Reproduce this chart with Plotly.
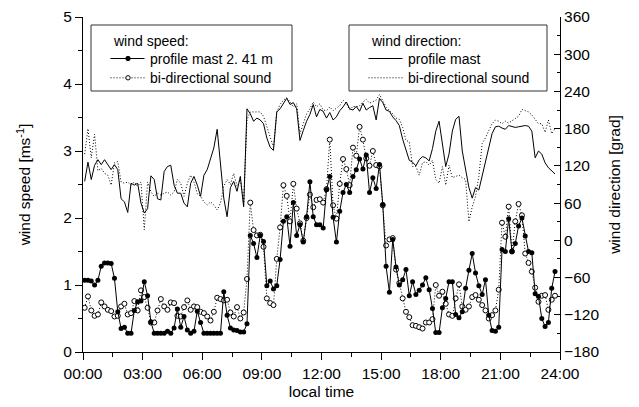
import plotly.graph_objects as go

# ---- data (10-min values, local time in hours) ----
speed_mast = [1.07, 1.07, 1.06, 1.00, 1.07, 1.28, 1.33, 1.33, 1.32, 1.10,
              0.60, 0.35, 0.37, 0.28, 0.28, 0.62, 0.75, 0.76, 1.05, 0.84,
              0.45, 0.28, 0.28, 0.28, 0.28, 0.31, 0.28, 0.36, 0.64, 0.37,
              0.53, 0.33, 0.28, 0.31, 0.61, 0.44, 0.28, 0.28, 0.28, 0.28,
              0.28, 0.28, 0.90, 0.55, 0.36, 0.33, 0.32, 0.30, 0.30, 0.42,
              1.74, 1.62, 1.41, 1.74, 1.65, 0.99, 1.06, 0.94, 0.99, 1.38,
              1.95, 2.02, 1.58, 2.23, 1.74, 1.90, 1.64, 2.02, 2.54, 2.02,
              1.90, 1.90, 1.85, 2.42, 2.62, 2.01, 1.64, 2.10, 2.38, 2.50,
              2.38, 2.62, 2.72, 2.88, 2.73, 2.94, 2.38, 2.60, 2.44, 2.80,
              2.20, 1.28, 0.89, 1.68, 1.27, 1.00, 1.08, 1.23, 0.84, 1.05,
              0.86, 0.92, 1.00, 1.11, 0.93, 0.65, 0.29, 0.29, 0.66, 0.80,
              1.05, 1.05, 0.56, 0.51, 0.60, 0.95, 1.22, 1.47, 1.18, 0.99,
              0.86, 1.08, 0.55, 0.32, 0.31, 0.37, 1.53, 1.50, 1.99, 1.50,
              1.62, 1.88, 2.00, 1.73, 1.50, 1.48, 0.87, 0.83, 0.50, 0.38,
              0.44, 0.95, 1.20]

speed_sound = [0.66, 0.83, 0.62, 0.54, 0.56, 0.74, 0.68, 0.63, 0.61, 0.53,
               0.54, 0.68, 0.72, 0.56, 0.58, 0.76, 0.62, 0.92, 0.82, 0.66,
               0.44, 0.44, 0.62, 0.79, 0.68, 0.63, 0.74, 0.73, 0.54, 0.53,
               0.67, 0.77, 0.63, 0.68, 0.67, 0.60, 0.58, 0.53, 0.47, 0.60,
               0.81, 0.79, 0.77, 0.78, 0.59, 0.53, 0.67, 0.50, 0.59, 1.09,
               2.23, 1.82, 1.74, 1.75, 1.57, 0.80, 0.73, 0.70, 1.39, 1.86,
               2.49, 2.33, 1.95, 2.51, 2.14, 1.92, 1.66, 2.00, 2.35, 2.16,
               2.27, 2.28, 2.23, 2.43, 3.17, 2.19, 1.99, 2.51, 2.88, 2.73,
               2.49, 3.05, 2.93, 3.36, 3.17, 2.89, 2.78, 3.00, 2.79, 2.77,
               2.19, 1.59, 1.68, 1.70, 1.23, 1.03, 0.80, 0.60, 0.52, 0.40,
               0.39, 0.37, 0.35, 0.44, 0.44, 0.49, 1.00, 0.84, 0.90, 0.72,
               0.56, 0.54, 0.80, 1.01, 0.68, 0.63, 0.68, 0.82, 0.85, 0.78,
               0.70, 0.62, 0.50, 0.55, 0.62, 0.93, 1.93, 1.72, 2.17, 1.50,
               1.95, 2.21, 2.04, 1.47, 1.33, 1.20, 0.96, 0.75, 0.84, 0.85,
               0.63, 0.78, 0.84]

dir_mast = [95, 126, 98, 121, 130, 122, 130, 121, 114, 122,
            114, 67, 62, 45, 92, 89, 92, 60, 44, 51,
            104, 98, 67, 65, 111, 119, 121, 89, 76, 76,
            60, 54, 92, 103, 89, 71, 105, 114, 130, 149,
            179, 117, 68, 38, 85, 95, 79, 103, 54, 212,
            204, 192, 197, 194, 188, 165, 150, 145, 207, 212,
            221, 229, 219, 222, 212, 161, 177, 192, 203, 219,
            199, 211, 208, 197, 206, 194, 199, 209, 215, 223,
            212, 210, 216, 208, 221, 210, 214, 217, 194, 229,
            222, 210, 208, 199, 193, 185, 163, 144, 129, 126,
            120, 130, 135, 133, 128, 148, 176, 192, 155, 119,
            139, 176, 195, 200, 144, 112, 85, 68, 85, 81,
            103, 127, 148, 172, 183, 184, 181, 179, 185, 183,
            182, 183, 184, 185, 184, 176, 133, 144, 139, 125,
            117, 112, 107]

dir_sound = [139, 180, 133, 171, 112, 116, 108, 105, 89, 125,
             127, 94, 92, 94, 89, 94, 87, 94, 17, 94,
             78, 71, 76, 73, 76, 78, 73, 78, 98, 92,
             71, 92, 105, 94, 75, 71, 62, 57, 62, 57,
             49, 60, 87, 98, 90, 108, 87, 98, 58, 194,
             207, 207, 206, 207, 200, 183, 167, 150, 207, 219,
             226, 230, 223, 215, 220, 172, 188, 204, 212, 223,
             215, 220, 210, 209, 215, 209, 213, 217, 226, 221,
             210, 216, 215, 217, 223, 227, 221, 223, 226, 235,
             224, 215, 209, 204, 197, 195, 182, 161, 159, 119,
             119, 105, 125, 127, 121, 129, 98, 92, 119, 89,
             121, 101, 103, 105, 101, 98, 30, 54, 71, 103,
             156, 165, 177, 188, 194, 192, 188, 192, 189, 193,
             196, 200, 211, 209, 207, 202, 194, 188, 188, 174,
             194, 172, 180]

time_h = [(k + 0.5) / 6 for k in range(len(speed_mast))]

x_tickvals = [0, 3, 6, 9, 12, 15, 18, 21, 24]
x_ticktext = ["00:00", "03:00", "06:00", "09:00", "12:00", "15:00", "18:00", "21:00", "24:00"]

speed_legend_title = "wind speed:"
speed_names = ["profile mast 2. 41 m", "bi-directional sound"]
dir_legend_title = "wind direction:"
dir_names = ["profile mast", "bi-directional sound"]

FONT = "Liberation Sans, Arial, sans-serif"
DOT = "1px,2px"

W, H = 639, 407
L, R, T, B = 83, 79, 17, 55
PW, PH = W - L - R, H - T - B


def px(x):
    return (x - L) / PW


def py(y):
    return (H - B - y) / PH


fig = go.Figure()

fig.add_trace(go.Scatter(
    x=time_h, y=dir_mast, yaxis="y2", mode="lines",
    line=dict(color="black", width=1), name=dir_names[0]))
fig.add_trace(go.Scatter(
    x=time_h, y=dir_sound, yaxis="y2", mode="lines",
    line=dict(color="black", width=1, dash=DOT), name=dir_names[1]))
fig.add_trace(go.Scatter(
    x=time_h, y=speed_sound, mode="lines+markers",
    line=dict(color="black", width=1, dash=DOT),
    marker=dict(symbol="circle", size=5, color="white", line=dict(color="black", width=1)),
    name=speed_names[1]))
fig.add_trace(go.Scatter(
    x=time_h, y=speed_mast, mode="lines+markers",
    line=dict(color="black", width=1),
    marker=dict(symbol="circle", size=5, color="black"),
    name=speed_names[0]))

axis_font = dict(family=FONT, size=15.5, color="black")

# ---- hand-drawn legend boxes ----
shapes = []
annotations = []


def legend_box(x0, x1, y0, y1, title, names, markers):
    shapes.append(dict(type="rect", xref="paper", yref="paper",
                       x0=px(x0), x1=px(x1), y0=py(y1), y1=py(y0),
                       line=dict(color="#333", width=1), fillcolor="white", layer="above"))
    tx = x0 + 19.5
    annotations.append(dict(xref="paper", yref="paper", x=px(tx), y=py(y0 + 15.5),
                            xanchor="left", yanchor="middle", showarrow=False,
                            text=title, font=dict(family=FONT, size=14, color="black")))
    for i, (name, mk) in enumerate(zip(names, markers)):
        yy = y0 + 33.5 + i * 19.3
        shapes.append(dict(type="line", xref="paper", yref="paper",
                           x0=px(tx), x1=px(tx + 34), y0=py(yy), y1=py(yy),
                           line=dict(color="black", width=1, dash=None if i == 0 else DOT),
                           layer="above"))
        if mk is not None:
            cx = tx + 17.5
            r = 2.2
            shapes.append(dict(type="circle", xref="paper", yref="paper",
                               x0=px(cx - r), x1=px(cx + r), y0=py(yy + r), y1=py(yy - r),
                               line=dict(color="black", width=1), fillcolor=mk, layer="above"))
        annotations.append(dict(xref="paper", yref="paper", x=px(tx + 37), y=py(yy),
                                xanchor="left", yanchor="middle", showarrow=False,
                                text=name, font=dict(family=FONT, size=14, color="black")))


legend_box(91, 292, 25, 91, speed_legend_title, speed_names, ["black", "white"])
legend_box(349, 547, 25, 91, dir_legend_title, dir_names, [None, None])

fig.update_layout(
    width=W, height=H,
    margin=dict(l=L, r=R, t=T, b=B, autoexpand=False),
    paper_bgcolor="white", plot_bgcolor="white",
    font=dict(family=FONT, size=14, color="black"),
    showlegend=False,
    shapes=shapes, annotations=annotations,
    xaxis=dict(
        range=[0, 24], tickmode="array", tickvals=x_tickvals, ticktext=x_ticktext,
        ticks="outside", ticklen=7, tickwidth=1, tickcolor="black",
        minor=dict(tickmode="linear", tick0=0, dtick=1.5, ticks="outside", ticklen=4, tickcolor="black"),
        showline=True, linecolor="black", linewidth=1, showgrid=False, zeroline=False,
        tickfont=axis_font, automargin=False,
        title=dict(text="local time", font=dict(family=FONT, size=15.5), standoff=5),
    ),
    xaxis2=dict(
        range=[0, 24], overlaying="x", side="top", tickmode="linear", tick0=0, dtick=1.5,
        ticks="inside", ticklen=4, tickcolor="black", showticklabels=False,
        showline=True, linecolor="black", linewidth=1, showgrid=False, zeroline=False,
        automargin=False,
    ),
    yaxis=dict(
        range=[0, 5], tickmode="linear", tick0=0, dtick=1,
        ticks="outside", ticklen=7, tickwidth=1, tickcolor="black",
        minor=dict(tickmode="linear", tick0=0, dtick=0.5, ticks="outside", ticklen=4, tickcolor="black"),
        showline=True, linecolor="black", linewidth=1, showgrid=False, zeroline=False,
        tickfont=axis_font, automargin=False,
        title=dict(text="wind speed [ms<sup>-1</sup>]", font=dict(family=FONT, size=15.5), standoff=28),
    ),
    yaxis2=dict(
        range=[-180, 360], overlaying="y", side="right", tickmode="linear", tick0=-180, dtick=60,
        ticks="inside", ticklen=6, tickwidth=1, tickcolor="black",
        minor=dict(tickmode="linear", tick0=-180, dtick=30, ticks="inside", ticklen=3, tickcolor="black"),
        showline=True, linecolor="black", linewidth=1, showgrid=False, zeroline=False,
        tickfont=axis_font, automargin=False,
        title=dict(text="wind direction [grad]", font=dict(family=FONT, size=15.5), standoff=10),
    ),
)

fig.write_html("out.html", config={"displayModeBar": False},
               post_script="document.body.style.margin='0';document.body.style.padding='0';")
